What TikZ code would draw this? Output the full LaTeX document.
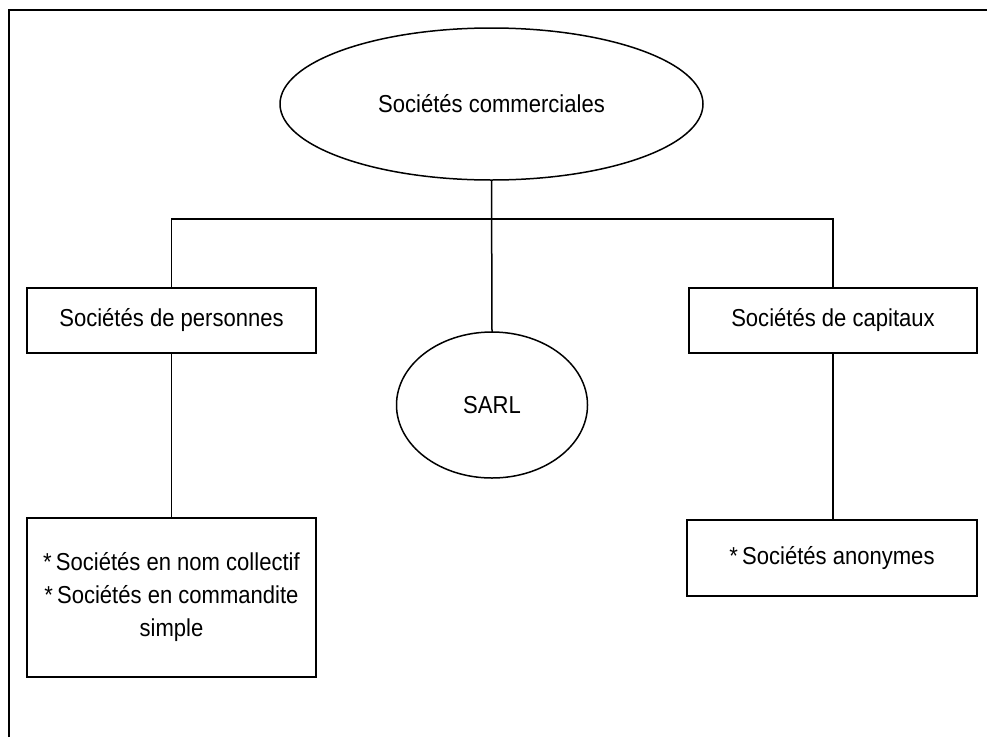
\documentclass[tikz,border=0pt]{standalone}
\usepackage{fontspec}
\setmainfont[FakeStretch=0.9]{Liberation Sans}
\usetikzlibrary{shapes.geometric}
\begin{document}
\begin{tikzpicture}[x=1pt,y=-1pt,
  every node/.style={font=\fontsize{24.5}{33}\selectfont, inner sep=0pt, outer sep=0pt, align=center},
  oval/.style={draw, ellipse, line width=1.5pt},
  boxnode/.style={draw, rectangle, line width=1.5pt},
  link/.style={line width=1.5pt}]
\useasboundingbox (0,0) rectangle (987,737);
% frame (left and top edges visible)
\draw[line width=2pt] (9,737) -- (9,10) -- (987,10);
% nodes
\node[oval, minimum width=423pt, minimum height=152pt] (top) at (491.5,104) {Sociétés commerciales};
\node[boxnode, minimum width=289pt, minimum height=65pt] (pers) at (171.5,320.5) {Sociétés de personnes};
\node[boxnode, minimum width=288pt, minimum height=65pt] (cap) at (833,320.5) {Sociétés de capitaux};
\node[oval, minimum width=191pt, minimum height=146pt] (sarl) at (492,405) {SARL};
\node[boxnode, minimum width=289pt, minimum height=159pt] (nc) at (171.5,597.5)
  {*\,Sociétés en nom collectif\\ *\,Sociétés en commandite\\ simple};
\node[boxnode, minimum width=290pt, minimum height=76pt] (anon) at (832,558) {*\,Sociétés anonymes};
% connectors
\coordinate (j) at (492,219);
\draw[link] (top.south) -- (sarl.north);
\draw[link] (pers.north) |- (j) -| (cap.north);
\draw[link] (pers.south) -- (nc.north);
\draw[link] (cap.south) -- (cap.south |- anon.north);
\end{tikzpicture}
\end{document}
